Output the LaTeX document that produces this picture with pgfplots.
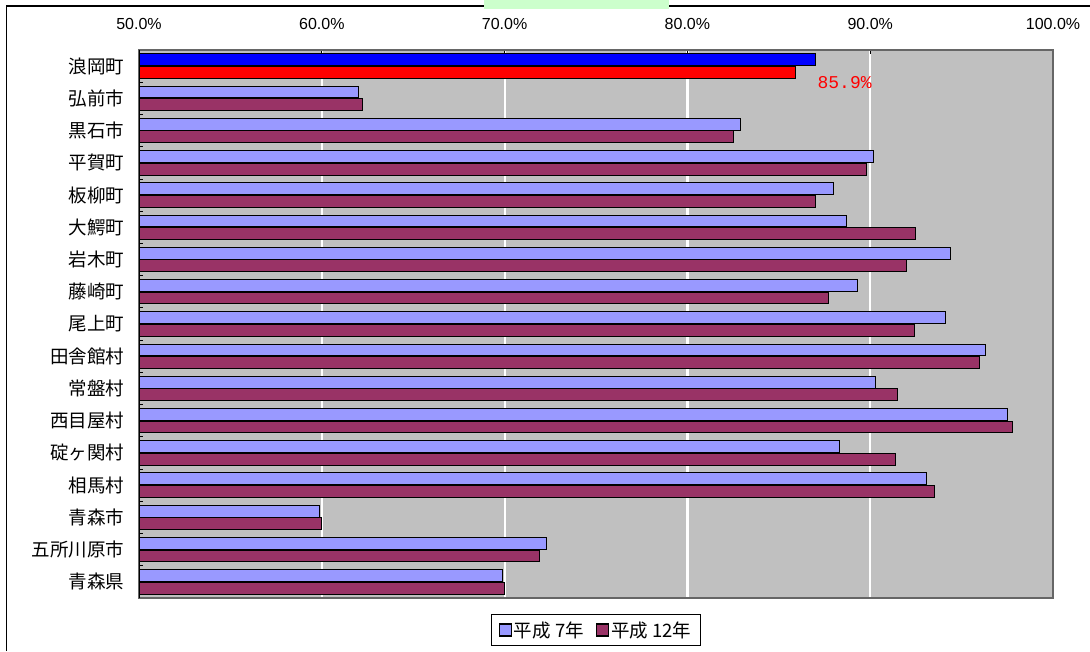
\documentclass[border=0pt]{standalone}
\usepackage{fontspec}
\usepackage{pgfplots}
\pgfplotsset{compat=1.18}
\setmainfont{Liberation Sans}
\newfontfamily\cjk{Noto Sans CJK JP}
\newfontfamily\mono{Liberation Mono}
\definecolor{lb}{HTML}{9999FF}
\definecolor{mr}{HTML}{993366}
\definecolor{bgg}{HTML}{C0C0C0}
\definecolor{gbox}{HTML}{CCFFCC}
\begin{document}
\begin{tikzpicture}[x=1pt,y=1pt]
\useasboundingbox (0,0) rectangle (1090,-651);
\fill[white] (0,0) rectangle (1090,-651);
\draw[line width=1.3pt] (6.5,-651) -- (6.5,-6) -- (1090,-6);
\fill[gbox] (484,0) rectangle (669,-9);
\begin{axis}[
  at={(139pt,-50pt)}, anchor=north west,
  width=914pt, height=548pt, scale only axis,
  xmin=50, xmax=100, ymin=-0.5, ymax=16.5, y dir=reverse,
  axis background/.style={fill=bgg},
  axis line style={draw=black!60, line width=1.2pt},
  xtick={50,60,70,80,90,100},
  xticklabels={50.0\%,60.0\%,70.0\%,80.0\%,90.0\%,100.0\%},
  xtick pos=upper, xticklabel pos=upper,
  tick align=inside, major tick length=4pt,
  tick style={black, line width=0.8pt},
  xticklabel style={font=\fontsize{16}{16}\selectfont, yshift=17pt},
  xmajorgrids, major grid style={white, line width=2.2pt},
  ytick={-0.5,0.5,...,16.5}, yticklabels={},
  ytick pos=left,
  extra y ticks={0,1,...,16},
  extra y tick labels={浪岡町,弘前市,黒石市,平賀町,板柳町,大鰐町,岩木町,藤崎町,尾上町,田舎館村,常盤村,西目屋村,碇ヶ関村,相馬村,青森市,五所川原市,青森県},
  extra y tick style={major tick length=0pt, yticklabel style={font=\cjk\fontsize{18.5}{18.5}\selectfont, xshift=-11pt}},
  legend style={at={(0.5,0)}, anchor=north, yshift=-16pt, legend columns=2, draw=black, line width=0.8pt,
    font=\cjk\fontsize{18.5}{18.5}\selectfont, inner xsep=7pt, inner ysep=5pt,
    /tikz/every even column/.append style={column sep=10pt}},
  legend image code/.code={\draw[#1, draw=black, line width=1.2pt] (-4pt,-6pt) rectangle (8pt,6pt);},
]
\addplot[xbar, bar width=11.8pt, bar shift=6.3pt, fill=lb, draw=black, line width=1pt] coordinates {
(62.0,1) (82.9,2) (90.2,3) (88.0,4) (88.7,5) (94.4,6) (89.3,7) (94.1,8) (96.3,9) (90.3,10) (97.5,11) (88.3,12) (93.1,13) (59.9,14) (72.3,15) (69.9,16)};
\addlegendentry{平成 7年}
\addplot[xbar, bar width=11.8pt, bar shift=-6.3pt, fill=mr, draw=black, line width=1pt] coordinates {
(62.2,1) (82.5,2) (89.8,3) (87.0,4) (92.5,5) (92.0,6) (87.7,7) (92.4,8) (96.0,9) (91.5,10) (97.8,11) (91.4,12) (93.5,13) (60.0,14) (71.9,15) (70.0,16)};
\addlegendentry{平成 12年}
\addplot[forget plot, xbar, bar width=11.8pt, bar shift=6.3pt, fill=blue, draw=black, line width=1pt] coordinates {(87.0,0)};
\addplot[forget plot, xbar, bar width=11.8pt, bar shift=-6.3pt, fill=red, draw=black, line width=1pt] coordinates {(85.9,0)};
\draw[black, line width=1.2pt] (axis description cs:0,0) -- (axis description cs:0,1);
\node[text=red, font=\mono\fontsize{18}{18}\selectfont] at (axis cs:88.6,0.5) {85.9\%};
\end{axis}
\end{tikzpicture}
\end{document}
